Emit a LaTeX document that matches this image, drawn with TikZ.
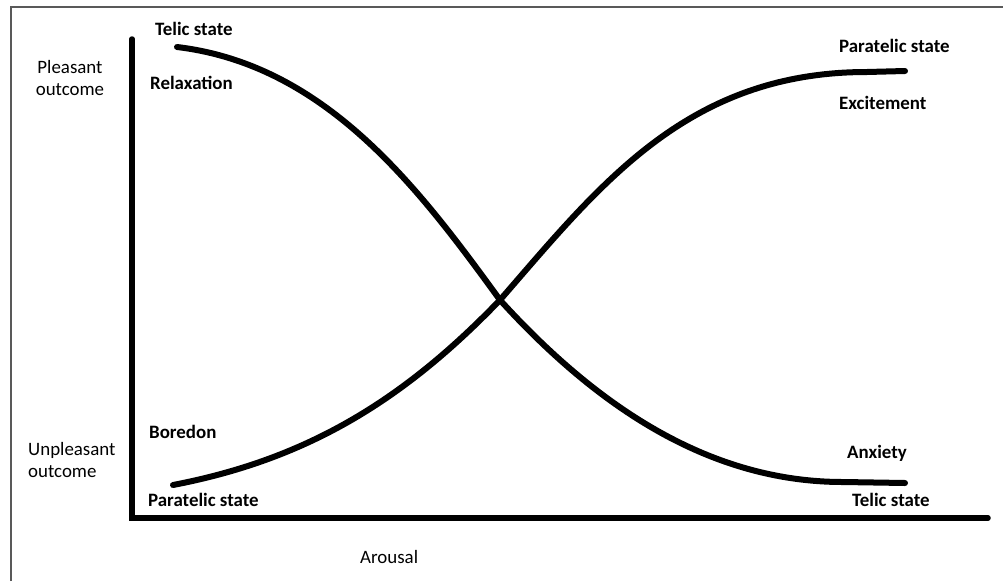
\documentclass[tikz,border=0pt]{standalone}
\usepackage{fontspec}
\setmainfont{Carlito}
\usetikzlibrary{positioning, calc}
\tikzset{
  axis/.style ={line width=5.5pt, line cap=round},
  curve/.style={line width=6pt, line cap=round, line join=round},
  frame/.style={line width=1.5pt, draw=black!65},
  lbl/.style  ={font=\fontsize{18.9}{22}\selectfont\bfseries, inner sep=0pt, anchor=base west},
  side/.style ={font=\fontsize{18.9}{22}\selectfont, inner sep=0pt, align=left},
}
\begin{document}
\begin{tikzpicture}[x=1pt, y=-1pt]
  \useasboundingbox (0,0) rectangle (1003,581);
  % --- outer frame (left and top edge only) ---------------------------------
  \draw[frame] (11,581) -- (11,7) -- (1003,7);

  % --- axes ------------------------------------------------------------------
  \coordinate (top)    at (132,39);
  \coordinate (origin) at (132,518);
  \coordinate (right)  at (988,518);
  \draw[axis] (top) -- (origin) -- (right);

  % --- telic curve (falls) and paratelic curve (rises) -----------------------
  \coordinate (cross) at (500,300);
  \draw[curve] (177,47) .. controls (327,65) and (420,190) .. (cross)
               .. controls (590,399) and (703,482) .. (843,482) -- (905,483);
  \draw[curve] (173,485) .. controls (303,460) and (400,404) .. (cross)
               .. controls (600,185) and (687,72) .. (867,72) -- (905,71);

  % --- axis texts (base = last line) -------------------------------------------
  \node[side, align=center, anchor=base] (pleas)   at (70,95)  {Pleasant\\outcome};
  \node[side, anchor=base west]          (unpleas) at (28,477) {Unpleasant\\outcome};
  \node[side, anchor=base west]          (arousal) at (360,563) {Arousal};

  % --- state labels -----------------------------------------------------------
  \node[lbl] (telicA)   at (155,35)  {Telic state};
  \node[lbl] (relax)    at (150,89)  {Relaxation};
  \node[lbl] (bored)    at (149,438) {Boredon};
  \node[lbl] (paraA)    at (148,506) {Paratelic state};
  \node[lbl] (paraB)    at (839,52)  {Paratelic state};
  \node[lbl] (excite)   at (839,109) {Excitement};
  \node[lbl] (anxiety)  at (847,458) {Anxiety};
  \node[lbl] (telicB)   at (852,506) {Telic state};
\end{tikzpicture}
\end{document}
